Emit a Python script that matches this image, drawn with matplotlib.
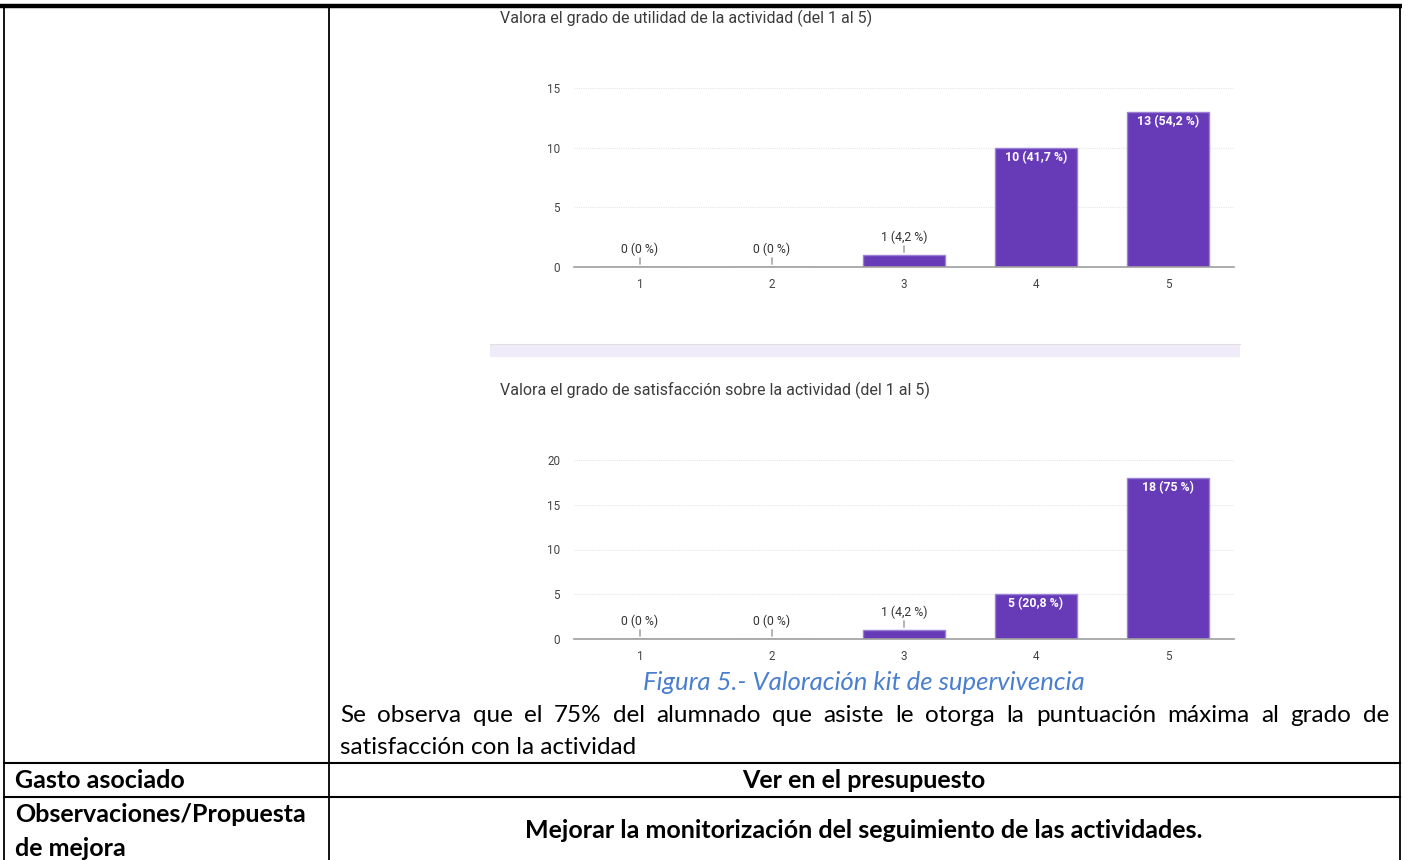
import numpy as np
import matplotlib
matplotlib.use("Agg")
import matplotlib.pyplot as plt
from matplotlib.transforms import offset_copy

W, H = 1408, 860

# datos de las dos preguntas
categorias = [1, 2, 3, 4, 5]
utilidad = [0, 0, 1, 10, 13]
utilidad_pct = ["0 %", "0 %", "4,2 %", "41,7 %", "54,2 %"]
satisfaccion = [0, 0, 1, 5, 18]
satisfaccion_pct = ["0 %", "0 %", "4,2 %", "20,8 %", "75 %"]

titulo_1 = "Valora el grado de utilidad de la actividad (del 1 al 5)"
titulo_2 = "Valora el grado de satisfacción sobre la actividad (del 1 al 5)"
pie_figura = "Figura 5.- Valoración kit de supervivencia"
texto = ("Se observa que el 75% del alumnado que asiste le otorga la puntuación "
         "máxima al grado de satisfacción con la actividad")

MORADO = "#673ab7"
BODY_FONT = ["Lato", "DejaVu Sans"]
CHART_FONT = ["Roboto", "DejaVu Sans"]
CHART_FS = 8.8

fig = plt.figure(figsize=(W / 100, H / 100), dpi=100)
fig.patch.set_facecolor("white")

# capa en pixeles para la tabla y los textos
base = fig.add_axes([0, 0, 1, 1])
base.set_xlim(0, W)
base.set_ylim(H, 0)
base.axis("off")


def fx(px):
    return px / W


def fy(py):
    return 1 - py / H


def bar_chart(top_px, bottom_px, valores, pct, ymax, yticks):
    ax = fig.add_axes([fx(574), fy(bottom_px), fx(1234) - fx(574), fy(top_px) - fy(bottom_px)])
    ax.set_xlim(0.5, 5.5)
    ax.set_ylim(0, ymax)
    ax.bar(categorias, valores, width=0.62, color=MORADO, edgecolor="#9c80d6", linewidth=1.0, zorder=3)
    for s in ["top", "right", "left"]:
        ax.spines[s].set_visible(False)
    ax.spines["bottom"].set_color("#9e9e9e")
    ax.spines["bottom"].set_linewidth(1.2)
    ax.spines["bottom"].set_zorder(4)
    ax.set_yticks(yticks)
    ax.set_xticks(categorias)
    ax.tick_params(length=0, labelsize=CHART_FS - 0.4, colors="#444444")
    ax.tick_params(axis="y", pad=10)
    ax.tick_params(axis="x", pad=8)
    for lab in ax.get_xticklabels() + ax.get_yticklabels():
        lab.set_family(CHART_FONT)
    for t in yticks[1:]:
        ax.axhline(t, color="#e6e6e6", lw=0.8, ls=(0, (1, 1)), zorder=1)
    for x, v, p in zip(categorias, valores, pct):
        etiqueta = f"{v} ({p})"
        if v >= 5:
            tr = offset_copy(ax.transData, fig=fig, x=0, y=-3, units="dots")
            ax.text(x, v, etiqueta, transform=tr, ha="center", va="top", color="white",
                    fontsize=CHART_FS, fontweight="bold", family=CHART_FONT, zorder=5)
        else:
            tr0 = offset_copy(ax.transData, fig=fig, x=0, y=0, units="dots")
            tr1 = offset_copy(ax.transData, fig=fig, x=0, y=12, units="dots")
            tr2 = offset_copy(ax.transData, fig=fig, x=0, y=11, units="dots")
            ax.annotate("", xy=(x, v), xytext=(x, v), xycoords=tr0, textcoords=tr1,
                        arrowprops=dict(arrowstyle="-", color="#888888", lw=0.9))
            ax.text(x, v, etiqueta, transform=tr2, ha="center", va="bottom", color="#333333",
                    fontsize=CHART_FS, family=CHART_FONT, zorder=5)
    return ax


bar_chart(88, 267, utilidad, utilidad_pct, 15, [0, 5, 10, 15])
bar_chart(460, 639, satisfaccion, satisfaccion_pct, 20, [0, 5, 10, 15, 20])

# titulos de los graficos
base.text(500, 18, titulo_1, fontsize=11.5, color="#3c3c3c", family=CHART_FONT, va="center", ha="left")
base.text(500, 390, titulo_2, fontsize=11.5, color="#3c3c3c", family=CHART_FONT, va="center", ha="left")

# franja entre formularios
base.add_patch(plt.Rectangle((490, 344), 750, 13, facecolor="#f0ebf8", edgecolor="none"))
base.plot([490, 1240], [344, 344], color="#e0e0e0", lw=0.8)

# lineas de la tabla
base.plot([0, 1402], [5.5, 5.5], color="black", lw=3.2, solid_capstyle="butt")
base.plot([4, 4], [6, H], color="black", lw=1.3)
base.plot([329, 329], [6, H], color="black", lw=1.3)
base.plot([1400, 1400], [6, H], color="black", lw=1.3)
base.plot([4, 1400], [763, 763], color="black", lw=1.5)
base.plot([4, 1400], [797, 797], color="black", lw=1.5)

# pie de figura
base.text(864, 683, pie_figura, fontsize=18.5, style="italic", color="#4a7fcf",
          family=BODY_FONT, ha="center", va="center")

# parrafo justificado
fig.canvas.draw()
renderer = fig.canvas.get_renderer()
palabras = texto.split()
linea1 = palabras[:17]
linea2 = palabras[17:]
x0, x1 = 340, 1389
anchos = []
objs = []
for w in linea1:
    t = base.text(0, 715, w, fontsize=17.5, family=BODY_FONT, ha="left", va="center", color="black")
    bb = t.get_window_extent(renderer)
    anchos.append(bb.width)
    objs.append(t)
hueco = (x1 - x0 - sum(anchos)) / (len(linea1) - 1)
x = x0
for t, a in zip(objs, anchos):
    t.set_x(x)
    x += a + hueco
base.text(x0, 747, " ".join(linea2), fontsize=17.5, family=BODY_FONT, ha="left", va="center", color="black")

# filas inferiores
BFS = 18
base.text(15, 781, "Gasto asociado", fontsize=BFS, fontweight="bold", family=BODY_FONT, va="center")
base.text(864, 781, "Ver en el presupuesto", fontsize=BFS, fontweight="bold", family=BODY_FONT,
          va="center", ha="center")
base.text(15, 815, "Observaciones/Propuesta", fontsize=BFS, fontweight="bold", family=BODY_FONT, va="center")
base.text(15, 848, "de mejora", fontsize=BFS, fontweight="bold", family=BODY_FONT, va="center")
base.text(864, 831, "Mejorar la monitorización del seguimiento de las actividades.", fontsize=BFS,
          fontweight="bold", family=BODY_FONT, va="center", ha="center")

fig.savefig("out.png", dpi=100, facecolor="white")
